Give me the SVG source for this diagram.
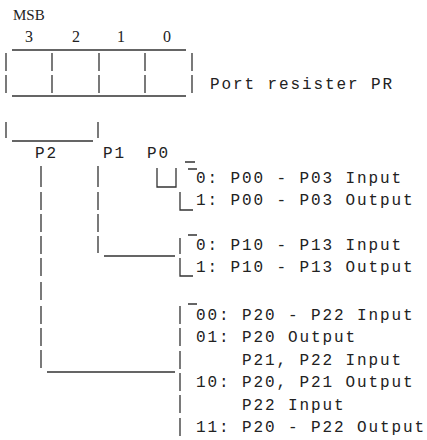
<svg xmlns="http://www.w3.org/2000/svg" width="427" height="440" viewBox="0 0 427 440">
<style>
.m{font-family:"Liberation Mono","DejaVu Sans Mono",monospace;font-size:16px;letter-spacing:1.9px;fill:#222}
.s{font-family:"Liberation Serif","DejaVu Serif",serif;fill:#222}
.ln{stroke:#333;stroke-width:1.3;fill:none}
</style>
<rect width="427" height="440" fill="#fff"/>
<g id="register">
<text class="s" x="13" y="20" font-size="15">MSB</text>
<g class="s" font-size="16" text-anchor="middle">
<text x="29" y="42">3</text><text x="76" y="42">2</text><text x="121" y="42">1</text><text x="167" y="42">0</text>
</g>
<path class="ln" d="M12 50H186M12 96H186M6 53V71M6 75V93M52 53V71M52 75V93M99 53V71M99 75V93M145 53V71M145 75V93M192 53V71M192 75V93"/>
<text class="m" x="210" y="89">Port resister PR</text>
</g>
<g id="selector">
<path class="ln" d="M6 122V138M98 122V138M12 141H93"/>
</g>
<g id="p2"><text class="m" x="35" y="158">P2</text></g>
<g id="p1"><text class="m" x="103" y="158">P1</text></g>
<g id="p0"><text class="m" x="147" y="158">P0</text></g>
<g id="p0-options">
<text class="m" x="196" y="183">0: P00 - P03 Input</text>
<text class="m" x="196" y="205">1: P00 - P03 Output</text>
</g>
<g id="p1-options">
<text class="m" x="196" y="250">0: P10 - P13 Input</text>
<text class="m" x="196" y="272">1: P10 - P13 Output</text>
</g>
<g id="p2-options">
<text class="m" x="196" y="320">00: P20 - P22 Input</text>
<text class="m" x="196" y="342">01: P20 Output</text>
<text class="m" x="242" y="365">P21, P22 Input</text>
<text class="m" x="196" y="387">10: P20, P21 Output</text>
<text class="m" x="242" y="410">P22 Input</text>
<text class="m" x="196" y="432">11: P20 - P22 Output</text>
</g>
<g id="connectors" class="ln">
<path d="M157 168V187H176V168M185 162H195M188 169H197M180 192V210H193"/>
<path d="M98 166V187M98 192V210M98 214V232M98 236V253M104 256H175M188 235H197M180 238V254M180 258V276H193"/>
<path d="M41 166V187M41 192V210M41 214V232M41 236V254M41 258V276M41 282V300M41 306V324M41 328V346M41 350V368M47 372H175M188 304H197M180 306V324M180 328V346M180 351V369M180 373V391M180 395V413M180 418V436"/>
</g>
</svg>
